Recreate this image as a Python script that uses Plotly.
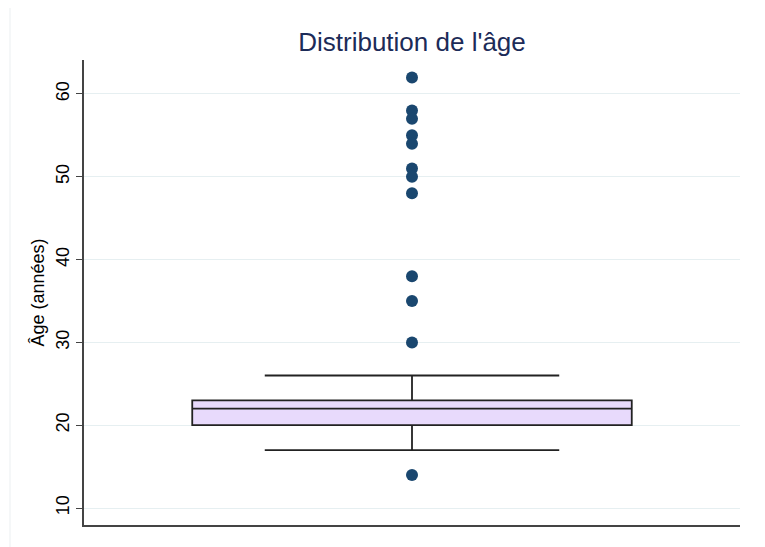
import plotly.graph_objects as go

# Data
q1 = [20]
median = [22]
q3 = [23]
lower_whisker = [17]
upper_whisker = [26]
outliers = [62, 58, 57, 55, 54, 51, 50, 48, 38, 35, 30, 14]
y_ticks = [10, 20, 30, 40, 50, 60]

navy = "#1a476f"
fig = go.Figure()
fig.add_trace(go.Box(
    x=[0], q1=q1, median=median, q3=q3,
    lowerfence=lower_whisker, upperfence=upper_whisker,
    fillcolor="#e8dafc",
    line=dict(color="#222222", width=1.8),
    width=0.67, whiskerwidth=0.67,
    boxpoints=False, showlegend=False, hoverinfo="skip",
))
fig.add_trace(go.Scatter(
    x=[0] * len(outliers), y=outliers, mode="markers",
    marker=dict(color=navy, size=12, line=dict(width=0)),
    showlegend=False,
))

L, T, W, H = 76, 52, 656, 465
fig.update_layout(
    width=765, height=547,
    margin=dict(l=L, r=765 - L - W, t=T, b=547 - T - H),
    paper_bgcolor="white", plot_bgcolor="white",
    font=dict(family="Liberation Sans, Arial, sans-serif", color="#000000", size=18),
    title=dict(text="Distribution de l'âge", x=0.5, xref="paper", xanchor="center",
               y=1 - 34 / 547, yref="container", yanchor="middle",
               font=dict(size=26, color="#1c2b58")),
    xaxis=dict(range=[-0.5, 0.5], showticklabels=False, showgrid=False, zeroline=False,
               showline=True, linecolor="#444444", linewidth=1.5, ticks=""),
    yaxis=dict(range=[7.95, 64.1], tickvals=y_ticks, tickangle=-90,
               showgrid=True, gridcolor="#e6eff1", gridwidth=1.2, zeroline=False,
               showline=True, linecolor="#444444", linewidth=1.5,
               ticks="outside", ticklen=6, tickcolor="#444444", tickwidth=1.2,
               title=dict(text="Âge (années)", standoff=4, font=dict(size=18)),
               tickfont=dict(size=18)),
    shapes=[dict(type="rect", xref="paper", yref="paper",
                 x0=(2 - L) / W, x1=(752 - L) / W,
                 y0=(T + H - 560) / H, y1=(T + H + 1) / H,
                 line=dict(color="#eef2f3", width=1.2), layer="below")],
)

fig.write_html("out.html")
